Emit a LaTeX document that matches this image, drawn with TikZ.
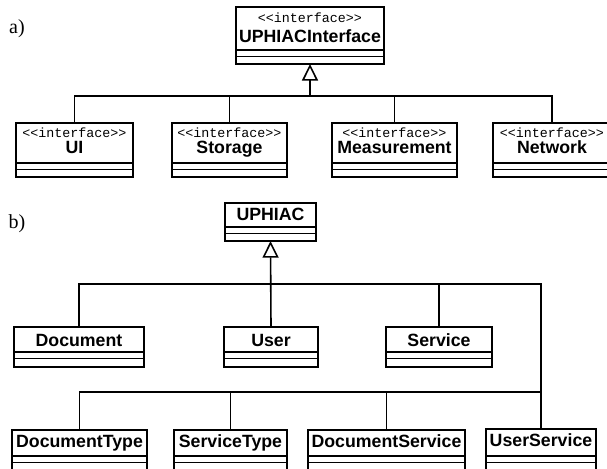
\documentclass[tikz,border=0pt]{standalone}
\usepackage{fontspec}
\setmainfont{Liberation Serif}
\setsansfont{Liberation Sans}
\setmonofont{Liberation Mono}
\usetikzlibrary{arrows.meta}

% coordinates are given in pixel units, y growing downwards
\tikzset{
  classbox/.style={draw, line width=1.4pt, fill=white, inner sep=0pt, outer sep=0pt},
  sepline/.style={line width=1.2pt},
  conn/.style={line width=1.2pt},
  inherit/.style={conn, -{Triangle[open, length=12.5pt, width=12pt, line width=1.2pt]}},
  classname/.style={font=\fontsize{13.3}{16}\selectfont\sffamily\bfseries, anchor=base, inner sep=0pt},
  stereo/.style={font=\fontsize{10}{12}\selectfont\ttfamily, anchor=base, inner sep=0pt},
  partlabel/.style={font=\fontsize{15}{18}\selectfont\rmfamily, anchor=base, inner sep=0pt}
}

% #1 name, #2 left, #3 top, #4 width, #5 height, #6 first separator offset, #7 name, #8 name baseline offset
\newcommand\umlclass[8]{%
  \node[classbox, minimum width=#4*0.75pt, minimum height=#5*0.75pt, anchor=north west] (#1) at (#2,#3) {};
  \draw[sepline] (#2,#3+#6) -- (#2+#4,#3+#6);
  \draw[sepline] (#2,#3+#6+6.5) -- (#2+#4,#3+#6+6.5);
  \node[classname] (#1-name) at (#2+#4/2,#3+#8) {#7};
}
% same with an <<interface>> stereotype line; #9 stereotype baseline offset
\newcommand\umliface[9]{%
  \umlclass{#1}{#2}{#3}{#4}{#5}{#6}{#7}{#8}
  \node[stereo] (#1-stereo) at (#2+#4/2,#3+#9) {<<interface>>};
}

\begin{document}
\begin{tikzpicture}[x=0.75pt, y=-0.75pt]
  \useasboundingbox (0,0) rectangle (607,468);
  \clip (0,0) rectangle (607,468);
  \fill[white] (0,0) rectangle (607,468);

  % ---- a) interface hierarchy
  \node[partlabel] (la) at (17,33) {a)};
  \umliface{top}{236}{7}{148}{57}{43}{UPHIACInterface}{35}{15}
  \umliface{ui}{16}{123}{117}{54}{40}{UI}{30}{14}
  \umliface{storage}{172}{123}{115}{54}{40}{Storage}{30}{14}
  \umliface{measure}{332}{123}{125}{54}{40}{Measurement}{30}{14}
  \umliface{network}{493}{123}{118}{54}{40}{Network}{30}{14}

  \coordinate (busA) at (310,96);
  \draw[inherit] (busA) -- (top.south);
  \foreach \n in {ui,storage,measure,network}
    \draw[conn] (\n.north) |- (busA);

  % ---- b) class hierarchy
  \node[partlabel] (lb) at (17,228) {b)};
  \umlclass{uphiac}{225}{203}{91}{38}{24}{UPHIAC}{17}
  \umlclass{document}{14}{327}{130}{40}{25}{Document}{19}
  \umlclass{user}{224}{327}{94}{40}{25}{User}{19}
  \umlclass{service}{386}{327}{106}{40}{25}{Service}{19}
  \umlclass{doctype}{12}{430}{135}{60}{26}{DocumentType}{17}
  \umlclass{servtype}{174}{430}{113}{60}{26}{ServiceType}{17}
  \umlclass{docserv}{308}{430}{157}{60}{26}{DocumentService}{17}
  \umlclass{userserv}{486}{429}{110}{60}{27}{UserService}{17}

  \coordinate (busB) at (271,284);
  \coordinate (busC) at (541,392);
  \draw[inherit] (user.north) -- (uphiac.south);
  \foreach \n in {document,service,userserv}
    \draw[conn] (\n.north) |- (busB);
  \foreach \n in {doctype,servtype,docserv}
    \draw[conn] (\n.north) |- (busC);
\end{tikzpicture}
\end{document}
